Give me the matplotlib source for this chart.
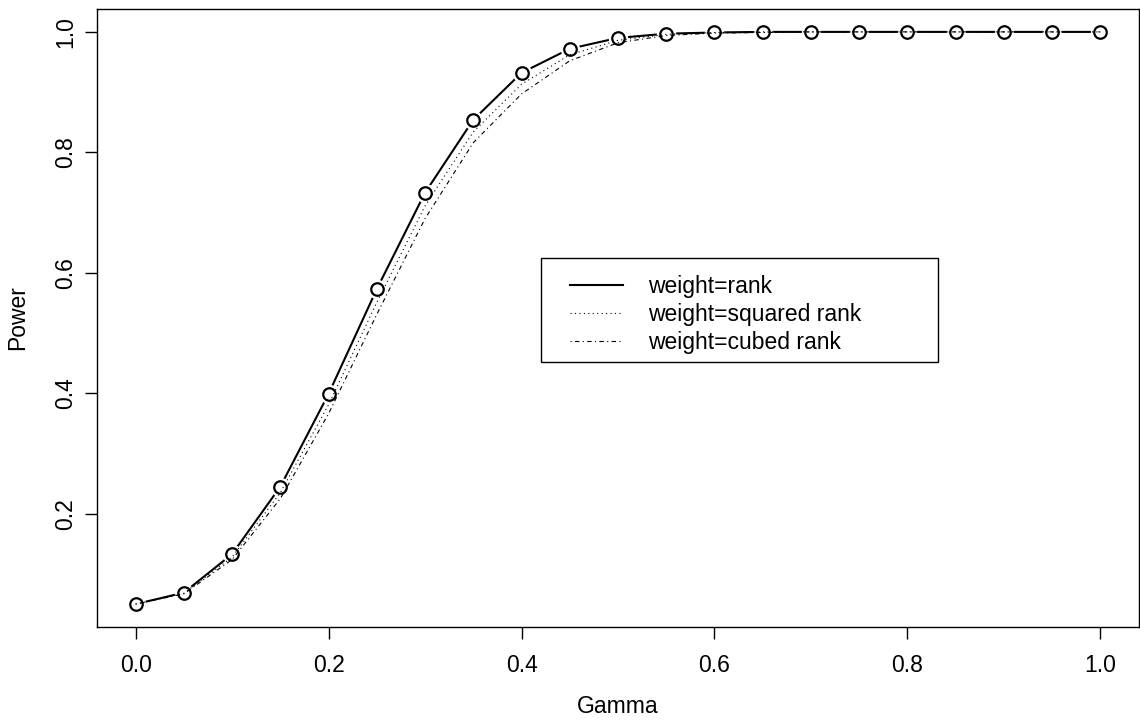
import numpy as np
import matplotlib
matplotlib.use("Agg")
import matplotlib.pyplot as plt
from matplotlib.patches import Rectangle

plt.rcParams["font.family"] = ["Liberation Sans", "DejaVu Sans"]

gamma = [0.0, 0.05, 0.1, 0.15, 0.2, 0.25, 0.3, 0.35, 0.4, 0.45, 0.5,
         0.55, 0.6, 0.65, 0.7, 0.75, 0.8, 0.85, 0.9, 0.95, 1.0]
power_rank = [0.050, 0.069, 0.133, 0.245, 0.399, 0.573, 0.733, 0.854, 0.932, 0.972, 0.990,
              0.997, 0.999, 1.0, 1.0, 1.0, 1.0, 1.0, 1.0, 1.0, 1.0]
power_sq = [0.050, 0.068, 0.128, 0.235, 0.381, 0.551, 0.711, 0.834, 0.913, 0.962, 0.986,
            0.996, 0.999, 1.0, 1.0, 1.0, 1.0, 1.0, 1.0, 1.0, 1.0]
power_cub = [0.050, 0.067, 0.124, 0.225, 0.366, 0.531, 0.690, 0.816, 0.897, 0.952, 0.982,
             0.994, 0.998, 0.999, 1.0, 1.0, 1.0, 1.0, 1.0, 1.0, 1.0]
labels = ["weight=rank", "weight=squared rank", "weight=cubed rank"]

W, H = 1140, 726
fig = plt.figure(figsize=(W / 100, H / 100), dpi=100)
ax = fig.add_axes([97 / W, 99 / H, 1042 / W, 618 / H])

# rank: type="b" -> line with gaps around the points
l1, = ax.plot(gamma, power_rank, color="black", lw=1.5, zorder=1)
ax.plot(gamma, power_rank, ls="none", marker="o", ms=13, mfc="white", mec="white", zorder=2)
l2, = ax.plot(gamma, power_sq, color="black", lw=0.8, ls=(0, (1, 3)), zorder=3)
l3, = ax.plot(gamma, power_cub, color="black", lw=0.8, ls=(0, (1, 3, 4, 3)), zorder=3)
ax.plot(gamma, power_rank, ls="none", marker="o", ms=9, mfc="none", mec="black", mew=1.6, zorder=4)

ax.set_xlim(-0.04, 1.04)
ax.set_ylim(0.05 - 0.038, 1.0 + 0.038)
ax.set_xticks(np.arange(0, 1.01, 0.2))
ax.set_xticklabels(["0.0", "0.2", "0.4", "0.6", "0.8", "1.0"])
ax.set_yticks([0.2, 0.4, 0.6, 0.8, 1.0])
ax.set_yticklabels(["0.2", "0.4", "0.6", "0.8", "1.0"], rotation=90, va="center")
ax.tick_params(length=8.5, width=1.0, labelsize=16.5, direction="out")
ax.tick_params(axis="x", pad=11)
ax.tick_params(axis="y", pad=6)
for s in ax.spines.values():
    s.set_linewidth(1.0)

ax.set_xlabel("Gamma", fontsize=16.5)
ax.xaxis.label.set_va("center")
ax.xaxis.set_label_coords(0.5, -0.129)
ax.set_ylabel("Power", fontsize=16.5)
ax.yaxis.label.set_va("center")
ax.yaxis.set_label_coords(-0.0758, 0.5)

# legend box (R style: frame drawn separately, entries placed inside)
bx0, bx1, by0, by1 = 541, 938, 258, 362
ax.add_patch(Rectangle(((bx0 - 97) / 1042, (627 - by1) / 618), (bx1 - bx0) / 1042, (by1 - by0) / 618,
                       transform=ax.transAxes, fill=True, fc="white", ec="black", lw=1.0,
                       zorder=5, clip_on=False))
leg = ax.legend([l1, l2, l3], labels, loc="upper left",
                bbox_to_anchor=((570 - 97) / 1042, (627 - 275) / 618),
                fontsize=16.5, frameon=False, handlelength=2.3, handletextpad=1.1,
                borderpad=0, labelspacing=0.21, borderaxespad=0)
leg.set_zorder(6)
leg.get_lines()[0].set_linewidth(1.5)

fig.savefig("out.png", dpi=100)
